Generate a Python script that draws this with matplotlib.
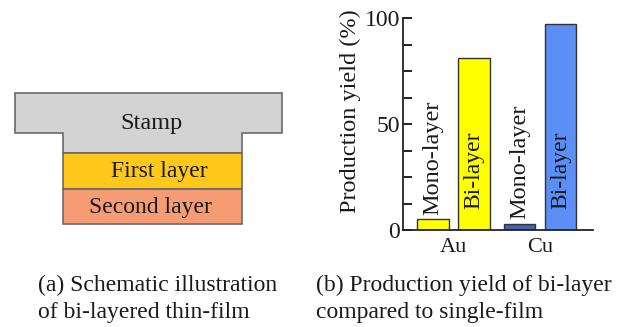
import matplotlib
matplotlib.use("Agg")
import matplotlib.pyplot as plt
from matplotlib.patches import Rectangle, Polygon
from matplotlib.ticker import MultipleLocator

plt.rcParams['font.family'] = ['Liberation Serif', 'DejaVu Serif']

# ---- data ----
metals = ["Au", "Cu"]
film_types = ["Mono-layer", "Bi-layer"]
mono_yield = [5, 3]
bi_yield = [81, 97]
mono_colors = ["#ffff00", "#3d62b8"]
bi_colors = ["#ffff00", "#5b8ff5"]
y_ticks = [0, 50, 100]

# schematic layer stack (name, colour), drawn top-down under the stamp
layer_names = ["First layer", "Second layer"]
layer_colors = ["#ffc81a", "#f59c74"]

caption_a = ["(a) Schematic illustration", "of bi-layered thin-film"]
caption_b = ["(b) Production yield of bi-layer", "compared to single-film"]

fig = plt.figure(figsize=(6.25, 3.27), dpi=100)
W, H = 625, 327
ink = "#1a1a1a"

# ---------------- (a) schematic ----------------
axs = fig.add_axes([0, 0, 1, 1])
axs.set_xlim(0, W)
axs.set_ylim(H, 0)
axs.axis("off")
edge = "#6a6a6a"
# stamp: wide head + narrower stem
stamp_pts = [(15, 93), (282, 93), (282, 133), (242, 133), (242, 153),
             (63, 153), (63, 133), (15, 133)]
axs.add_patch(Polygon(stamp_pts, closed=True, facecolor="#d3d3d3",
                      edgecolor=edge, lw=1.2))
axs.text(151, 124, "Stamp", ha="center", va="center", fontsize=17.5,
         color=ink)
layer_tops = [153, 189]
layer_h = [36, 35]
text_x = [159, 150]
for name, col, top, h, tx in zip(layer_names, layer_colors, layer_tops,
                                 layer_h, text_x):
    axs.add_patch(Rectangle((63, top), 179, h, facecolor=col,
                            edgecolor=edge, lw=1.2))
    axs.text(tx, top + h / 2 + 1, name, ha="center", va="center",
             fontsize=17, color=ink)

# captions, one line at a time
for cap, x0 in ((caption_a, 38), (caption_b, 316)):
    for line, yb in zip(cap, (291, 318)):
        axs.text(x0, yb, line, ha="left", va="baseline", fontsize=17,
                 color=ink)

# ---------------- (b) bar chart ----------------
ax = fig.add_axes([403 / W, 1 - 230 / H, 190 / W, 212 / H])
x = range(len(metals))
off, bw = 0.237, 0.36
for i in x:
    ax.bar(i - off, mono_yield[i], width=bw, color=mono_colors[i],
           edgecolor="#333333", lw=1.0)
    ax.bar(i + off, bi_yield[i], width=bw, color=bi_colors[i],
           edgecolor="#333333", lw=1.0)
    ax.text(i - off, mono_yield[i] + 2, film_types[0], rotation=90,
            ha="center", va="bottom", fontsize=17.5, color=ink)
    ax.text(i + off, 10, film_types[1], rotation=90,
            ha="center", va="bottom", fontsize=17, color=ink)

ax.set_xlim(-0.584, 1.613)
ax.set_ylim(0, 100)
ax.set_xticks(list(x))
ax.set_xticklabels(metals, fontsize=16, color=ink)
ax.tick_params(axis="x", length=0, pad=6)
ax.set_yticks(y_ticks)
ax.set_yticklabels([str(v) for v in y_ticks], fontsize=17, color=ink)
ax.yaxis.set_minor_locator(MultipleLocator(12.5))
ax.tick_params(axis="y", which="both", direction="in", length=6.5,
               width=1.2, pad=2)
for s in ("top", "right"):
    ax.spines[s].set_visible(False)
for s in ("left", "bottom"):
    ax.spines[s].set_linewidth(1.3)
    ax.spines[s].set_color("#222222")
ax.set_ylabel("Production yield (%)", fontsize=17.5, color=ink)
ax.yaxis.set_label_coords(-0.22, 0.56)

fig.savefig("out.png", dpi=100)
